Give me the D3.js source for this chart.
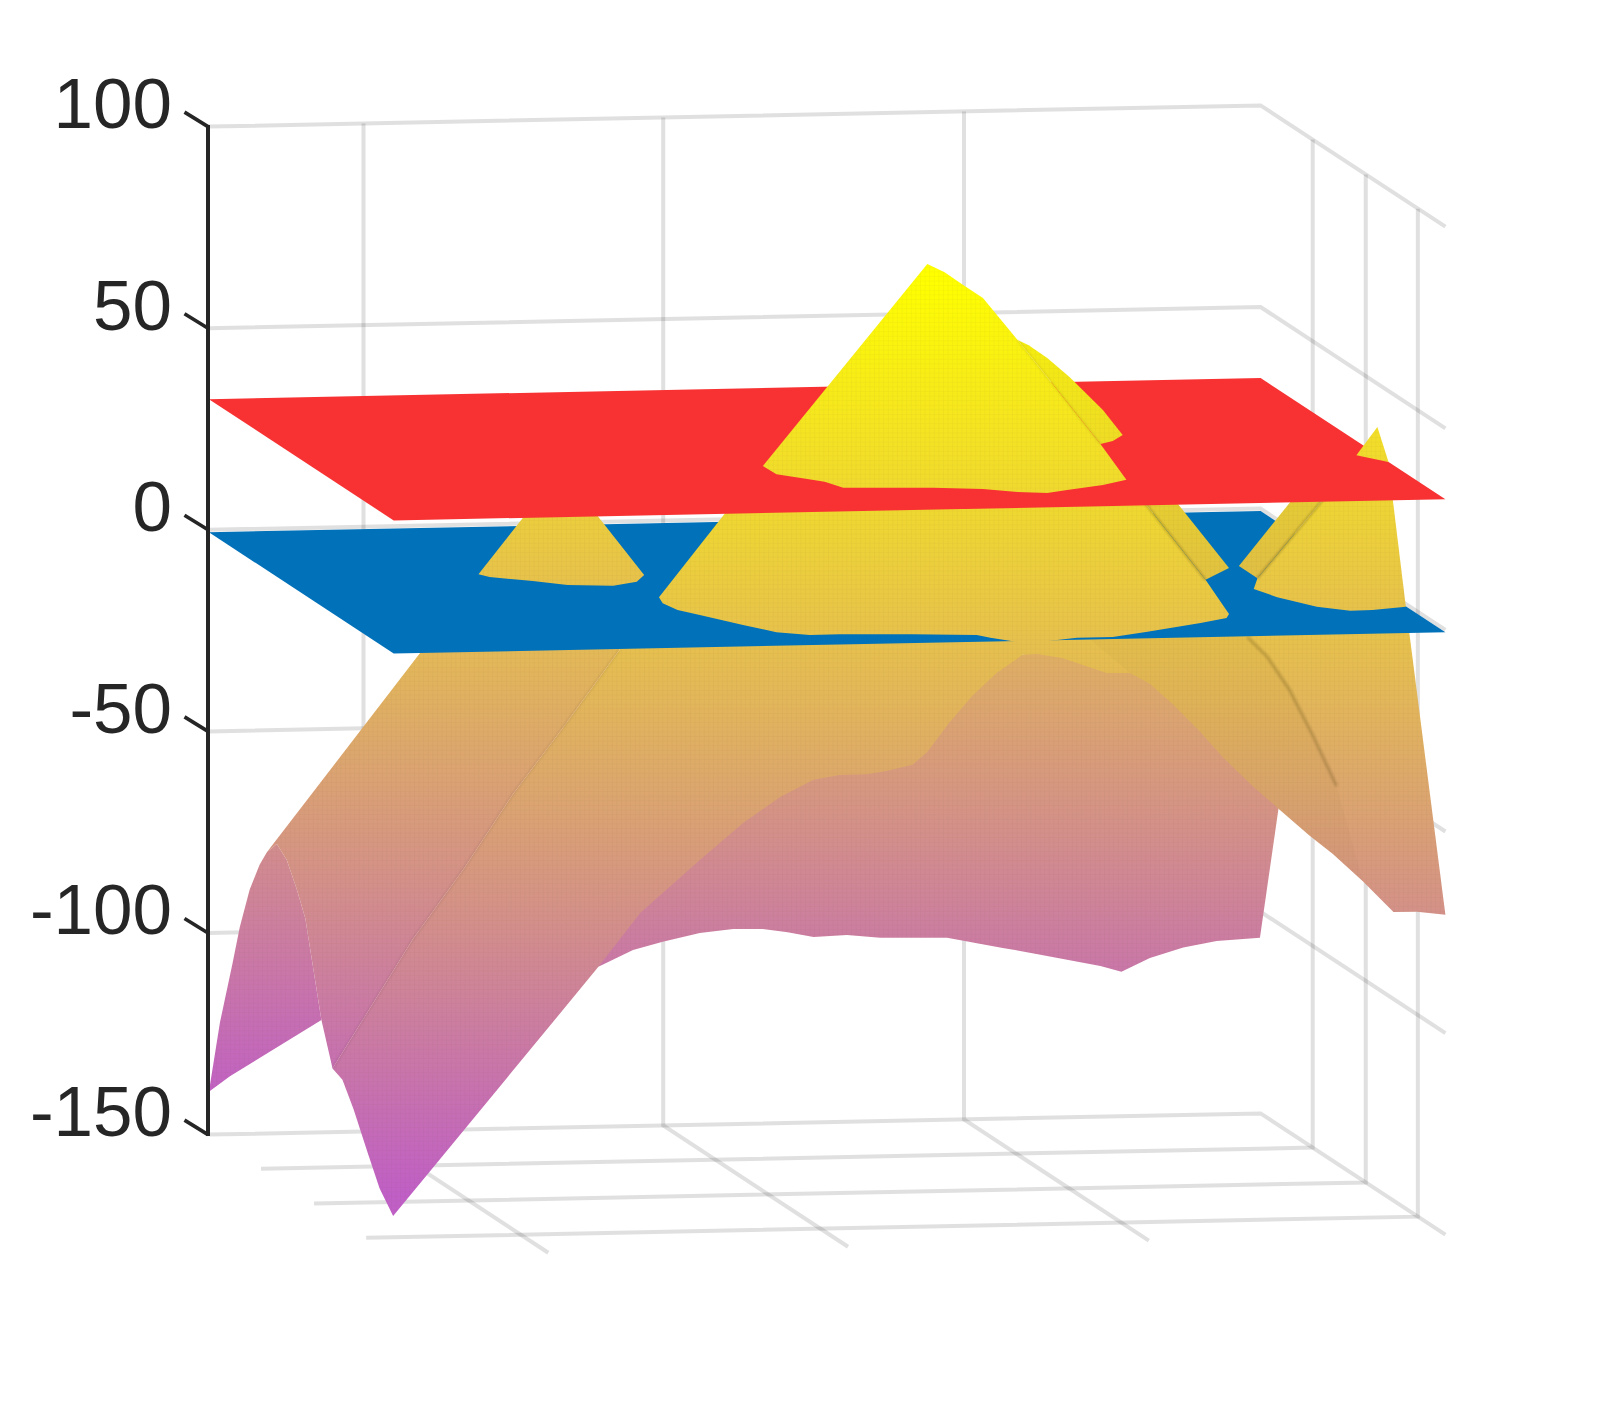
<!DOCTYPE html>
<html><head><meta charset="utf-8">
<script src="https://cdn.jsdelivr.net/npm/d3@7/dist/d3.min.js"></script>
<style>html,body{margin:0;padding:0;background:#fff}svg{display:block}</style>
</head><body><svg id="c" width="1598" height="1410"></svg>
<script>
// axis values
const zTicks=[100,50,0,-50,-100,-150];
const xTicks=[0.147,0.432,0.718];
const yTicks=[0.282,0.569,0.851];
const redLevel=32.4, blueLevel=-0.6;
// surface outlines: h = percent across the view, z = value read against the z axis
const backLeftH=[0,0.9,1.9,2.5,3.3,4.1,4.7,5.5,6.3,7.1,7.8,9.1,6.6,3.9,1.7];
const backLeftZ=[-139.4,-122.1,-107.7,-98.5,-89.2,-83.1,-79.9,-77.9,-81.9,-89.1,-96.4,-121.6,-126.3,-131.4,-135.5];
const backEdgeH=[31.5,34.3,36.7,39.7,42.4,44.8,46.8,48.9,51.6,54.3,59.7,64.2,66.6,72.1,73.8,76.1,78.8,81.5,85,86.5,84.2,70,60,50,35];
const backEdgeZ=[-108.4,-104.2,-102.2,-100,-99,-99,-99.8,-101,-100.5,-101.2,-101.2,-103.7,-105,-108.2,-109.6,-106.2,-103.6,-102,-101.2,-69.2,-50,-28,-35,-50,-85];
const leftSlopeH=[4.7,17.9,33.2,33.2,28.6,24.6,20.6,16.5,10,9.1,7.8,7.1,6.3,5.5];
const leftSlopeZ=[-79.9,-27.3,-27.3,-29.8,-49.2,-65.5,-84.1,-101.5,-133.6,-121.6,-96.4,-89.1,-81.9,-77.9];
const frontH=[33.2,33.2,28.6,24.6,20.6,16.5,10,10.8,11.7,12.8,13.8,14.9,31.5,34.9,39.7,43.2,46.2,48.9,51,53.2,54.8,56.9,58.1,59.9,61.8,63.7,65.8,67,69,72.6,74.5,76.1,78,80.2,82,84.2,86.5,89,90.9,93.3,95.8,97.7,100,97];
const frontZ=[-27.3,-29.8,-49.2,-65.5,-84.1,-101.5,-133.6,-136.4,-143.7,-154.1,-163.3,-170.2,-108.4,-95,-81.9,-72.7,-66.3,-62,-60.8,-60.6,-59.8,-58.3,-55.1,-47.7,-41,-35.5,-31,-30.8,-31.8,-35.5,-35.5,-38.2,-43.4,-50.2,-56.4,-63,-69.2,-75.8,-80.4,-87.1,-94.8,-94.7,-95.5,-23.6];
// darker slope between the right ridge and the lower rim
const frontShadeH=[70,84,85.6,87.4,89.3,91.2,93.3,90.9,89,86.5,84.2,82,80.2,78,76.1,74.5];
const frontShadeZ=[-24,-26.6,-31.5,-39.7,-51.1,-63.5,-87.1,-80.4,-75.8,-69.2,-63,-56.4,-50.2,-43.4,-38.2,-35.5];
const coneH=[26.2,21.8,22.7,26.2,29,32.7,34.6,35.2,31.5,30.8];
const coneZ=[6.1,-11,-11.7,-12.7,-13.7,-13.9,-12.9,-11.2,3.2,6.1];
const midBackH=[75.2,80.6,82.5,77.8];
const midBackZ=[8.6,-12.4,-9.5,8.6];
const midH=[42.9,36.4,36.7,37.9,39.7,43.2,45.9,48.6,51,56.9,62.1,63.2,65.4,67.2,70.2,73.1,75.9,80.2,82.3,82.5,80.6,75.2];
const midZ=[8.6,-16.7,-18.2,-19.9,-21.1,-23.6,-25.4,-26.1,-25.9,-25.9,-26.1,-26.8,-27.8,-27.8,-26.8,-26.6,-25.3,-23.1,-21.9,-20.9,-12.4,8.6];
const rightBackH=[87.9,83.3,84.8,90.4];
const rightBackZ=[8.6,-9,-12,8.6];
const rightH=[90.4,84.8,84.5,86.4,89.6,92.3,94.1,96.8,95.7];
const rightZ=[8.6,-12,-14.7,-16.7,-19.1,-20.1,-19.9,-19.1,8.6];
const peakBackH=[65.4,66.3,67.8,69.6,72.3,73.9,73.1,72.1];
const peakBackZ=[47.1,45.8,42.6,37.9,29.7,23.5,22,21.3];
const peakH=[58.1,59.5,61,62.6,65.4,72.1,74.2,72.3,69.4,67.8,65.4,62.6,58.6,51.3,49.8,48.4,45.9,44.8];
const peakZ=[65.9,63.9,60.7,57.5,47.1,21.3,12.4,11.1,9.9,9.1,9.4,10.1,10.4,10.4,11.9,12.6,13.8,15.8];
const tipH=[94.5,92.8,95.4];
const tipZ=[25.5,18.5,16.8];
// ridge lines
const creaseLeftH=[33.2,28.6,24.6,20.6,16.5,10];
const creaseLeftZ=[-29.8,-49.2,-65.5,-84.1,-101.5,-133.6];
const creaseRightH=[84,85.6,87.4,89.3,91.2];
const creaseRightZ=[-26.6,-31.5,-39.7,-51.1,-63.5];
const creaseMidH=[75.2,80.6];
const creaseMidZ=[8.6,-12.4];
const creaseRH=[90.4,84.8];
const creaseRZ=[8.6,-12];
const creasePeakH=[65.4,72.1];
const creasePeakZ=[47.1,21.3];
// colour range of the surface
const zColorLow=-140, zColorHigh=85;
const colorLow="#c05fc6", colorHigh="#ffff00";

// projection
const zPos=d3.scaleLinear([-150,100],[1134.6,126.6]);
const hPos=d3.scaleLinear([0,100],[208.9,1445.4]);
const xAcross=d3.scaleLinear([0,1],[208.9,1260.6]);
const yAcross=d3.scaleLinear([0,1],[0,184.8]);
const xRise=d3.scaleLinear([0,1],[0,-21.2]);
const yDrop=d3.scaleLinear([0,1],[0,121.3]);
const project=(x,y,z)=>[xAcross(x)+yAcross(y), zPos(z)+xRise(x)+yDrop(y)];
const line=d3.line();

const svg=d3.select("#c");
const defs=svg.append("defs");
const mesh=defs.append("pattern").attr("id","mesh").attr("patternUnits","userSpaceOnUse").attr("width",4.6).attr("height",4.6);
mesh.append("path").attr("d","M0 0H4.6M0 0V4.6").attr("stroke","#5a3c14").attr("stroke-opacity",0.08).attr("stroke-width",1).attr("fill","none");
defs.append("filter").attr("id","soft").attr("x","-20%").attr("y","-20%").attr("width","140%").attr("height","140%")
  .append("feGaussianBlur").attr("stdDeviation",1);

// grid
const grid=svg.append("g").attr("fill","none").attr("stroke","#262626").attr("stroke-opacity",0.14).attr("stroke-width",4);
const gridLine=pts=>grid.append("path").attr("d",line(pts.map(p=>project(...p))));
zTicks.forEach(z=>gridLine([[0,0,z],[1,0,z],[1,1,z]]));
xTicks.forEach(x=>{gridLine([[x,0,100],[x,0,-150],[x,1,-150]]);});
yTicks.forEach(y=>{gridLine([[1,y,100],[1,y,-150],[0,y,-150]]);});

// surface helpers
let gid=0;
function face(hs,zs,offset,shade){
  const id="g"+(gid++);
  const g=defs.append("linearGradient").attr("id",id).attr("gradientUnits","userSpaceOnUse")
    .attr("x1",0).attr("x2",0).attr("y1",zPos(zColorLow-offset)).attr("y2",zPos(zColorHigh-offset));
  const col=c=>{const r=d3.rgb(c);return shade?r.darker(shade).formatHex():r.formatHex();};
  g.append("stop").attr("offset",0).attr("stop-color",col(colorLow));
  g.append("stop").attr("offset",1).attr("stop-color",col(colorHigh));
  const d=line(hs.map((h,i)=>[hPos(h),zPos(zs[i])]))+"Z";
  svg.append("path").attr("d",d).attr("fill",`url(#${id})`);
  svg.append("path").attr("d",d).attr("fill","url(#mesh)");
}
function crease(hs,zs,op,w){
  svg.append("path").attr("d",line(hs.map((h,i)=>[hPos(h),zPos(zs[i])])))
    .attr("fill","none").attr("stroke","#3c2c10").attr("stroke-opacity",op).attr("stroke-width",w).attr("filter","url(#soft)");
}
function plane(level,color){
  svg.append("path").attr("d",line([[0,0],[1,0],[1,1],[0,1]].map(p=>project(p[0],p[1],level)))+"Z").attr("fill",color);
}

face(backLeftH,backLeftZ,3);
face(backEdgeH,backEdgeZ,3);
face(leftSlopeH,leftSlopeZ,16);
face(frontH,frontZ,25);
svg.append("path").attr("d",line(frontShadeH.map((h,i)=>[hPos(h),zPos(frontShadeZ[i])]))+"Z")
  .attr("fill","#4a3410").attr("fill-opacity",0.022);
crease(creaseLeftH,creaseLeftZ,0.1,2);
crease(creaseRightH,creaseRightZ,0.22,3);
plane(blueLevel,"#0171b9");
face(coneH,coneZ,12);
face(midBackH,midBackZ,20,0.1);
face(midH,midZ,25);
crease(creaseMidH,creaseMidZ,0.28,2);
face(rightBackH,rightBackZ,15,0.1);
face(rightH,rightZ,19);
crease(creaseRH,creaseRZ,0.3,2);
plane(redLevel,"#f83232");
face(tipH,tipZ,15);
face(peakBackH,peakBackZ,20,0.05);
face(peakH,peakZ,22);
crease(creasePeakH,creasePeakZ,0.12,1.5);

// z axis
const axis=svg.append("g");
axis.append("line").attr("x1",208).attr("x2",208).attr("y1",zPos(100)-1.5).attr("y2",zPos(-150)+1.5)
  .attr("stroke","#262626").attr("stroke-width",4);
zTicks.forEach(z=>{
  axis.append("line").attr("x1",208).attr("y1",zPos(z)).attr("x2",184.5).attr("y2",zPos(z)-14.5)
    .attr("stroke","#262626").attr("stroke-width",3.6);
  axis.append("text").attr("x",172).attr("y",zPos(z)+1.3).attr("text-anchor","end")
    .attr("font-family","'Liberation Sans',Arial,sans-serif").attr("font-size",71)
    .attr("fill","#262626").text(String(z));
});
</script></body></html>
